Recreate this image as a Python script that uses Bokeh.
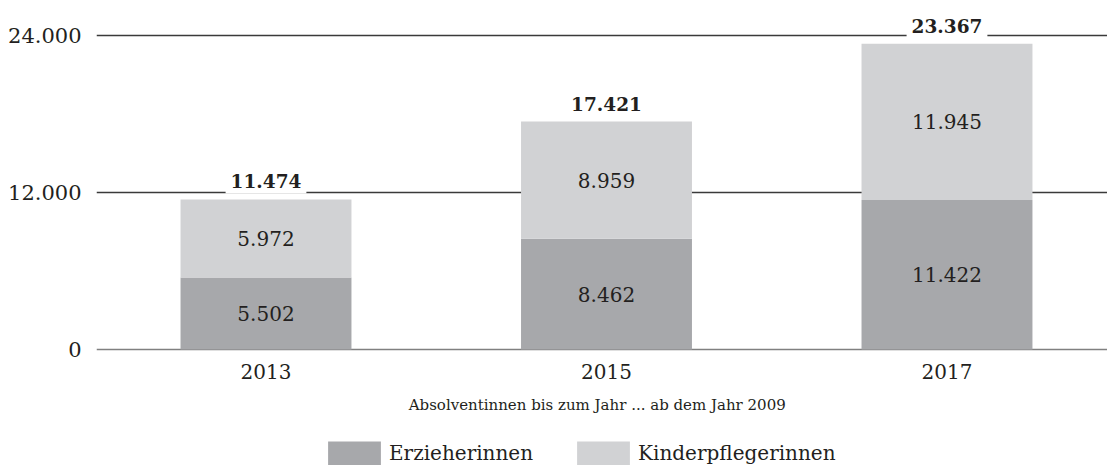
from bokeh.plotting import figure
from bokeh.models import (ColumnDataSource, FixedTicker, Grid, Legend, LegendItem,
                          Range1d)
from bokeh.core.properties import value
from bokeh.embed import file_html
from bokeh.resources import INLINE

# ---- data ----
years = ["2013", "2015", "2017"]
erzieherinnen = [5502, 8462, 11422]
kinderpflegerinnen = [5972, 8959, 11945]
totals = [11474, 17421, 23367]
y_ticks = [0, 12000, 24000]
series_names = ["Erzieherinnen", "Kinderpflegerinnen"]
axis_title = "Absolventinnen  bis zum  Jahr ... ab dem Jahr 2009"


def de(v):
    return f"{v:,}".replace(",", ".")


FONT = "DejaVu Serif"
TXT = "#231f20"
DARK = "#a7a8ab"
LIGHT = "#d1d2d4"

xs = list(range(len(years)))
src = ColumnDataSource(dict(
    x=xs,
    erz=erzieherinnen,
    kin=kinderpflegerinnen,
    total=totals,
    erz_mid=[e / 2 for e in erzieherinnen],
    kin_mid=[e + k / 2 for e, k in zip(erzieherinnen, kinderpflegerinnen)],
    erz_lbl=[de(v) for v in erzieherinnen],
    kin_lbl=[de(v) for v in kinderpflegerinnen],
    tot_lbl=[de(v) for v in totals],
))

p = figure(width=1107, height=465,
           x_range=Range1d(-0.4978, 2.4714), y_range=Range1d(-8866, 26675),
           output_backend="svg", toolbar_location=None,
           min_border_left=96, min_border_right=0, min_border_top=0,
           min_border_bottom=0)
p.outline_line_color = None
p.background_fill_color = "white"

p.xgrid.visible = False
p.ygrid.ticker = FixedTicker(ticks=[t for t in y_ticks if t != 0])
p.ygrid.grid_line_color = "#3a3a3a"
p.ygrid.grid_line_width = 1.3
zero_grid = Grid(dimension=1, ticker=FixedTicker(ticks=[0]),
                 grid_line_color="#808080", grid_line_width=1.5)
p.add_layout(zero_grid)

rs = p.vbar_stack(["erz", "kin"], x="x", width=0.502, source=src,
                  fill_color=[DARK, LIGHT], line_color=None)

common = dict(text_align="center", text_baseline="middle",
              text_font=value(FONT), text_color=TXT)
p.text(x="x", y="erz_mid", text="erz_lbl", source=src,
       text_font_size="20px", **common)
p.text(x="x", y="kin_mid", text="kin_lbl", source=src,
       text_font_size="20px", **common)
p.text(x="x", y="total", text="tot_lbl", source=src, y_offset=-18,
       text_font_size="18.5px", text_font_style="bold",
       background_fill_color="white", padding=5, **common)

# y axis
p.yaxis.ticker = FixedTicker(ticks=y_ticks)
p.yaxis.major_label_overrides = {t: de(t) for t in y_ticks}
p.yaxis.axis_line_color = None
p.yaxis.major_tick_line_color = None
p.yaxis.minor_tick_line_color = None
p.yaxis.major_tick_out = 0
p.yaxis.minor_tick_out = 0
p.yaxis.major_label_standoff = 15
p.yaxis.major_label_text_font = FONT
p.yaxis.major_label_text_font_size = "21px"
p.yaxis.major_label_text_color = TXT

# x axis, pinned at y = 0 inside the frame
p.xaxis.fixed_location = 0
p.xaxis.ticker = FixedTicker(ticks=xs)
p.xaxis.major_label_overrides = {i: y for i, y in zip(xs, years)}
p.xaxis.axis_line_color = None
p.xaxis.major_tick_line_color = None
p.xaxis.minor_tick_line_color = None
p.xaxis.major_tick_out = 0
p.xaxis.minor_tick_out = 0
p.xaxis.major_label_standoff = 14
p.xaxis.major_label_text_font = FONT
p.xaxis.major_label_text_font_size = "20px"
p.xaxis.major_label_text_color = TXT
p.xaxis.axis_label = axis_title
p.xaxis.axis_label_text_font = FONT
p.xaxis.axis_label_text_font_style = "normal"
p.xaxis.axis_label_text_font_size = "15px"
p.xaxis.axis_label_text_color = TXT
p.xaxis.axis_label_standoff = 14

legend = Legend(
    items=[LegendItem(label=series_names[0], renderers=[rs[0]]),
           LegendItem(label=series_names[1], renderers=[rs[1]])],
    location=(225, -3), orientation="horizontal",
    glyph_width=66, glyph_height=30, label_standoff=2, spacing=37,
    padding=0, margin=0, border_line_color=None, background_fill_alpha=0,
    label_text_font=FONT, label_text_font_size="20px", label_text_color=TXT,
)
p.add_layout(legend)

open("out.html", "w").write(file_html(p, INLINE))
